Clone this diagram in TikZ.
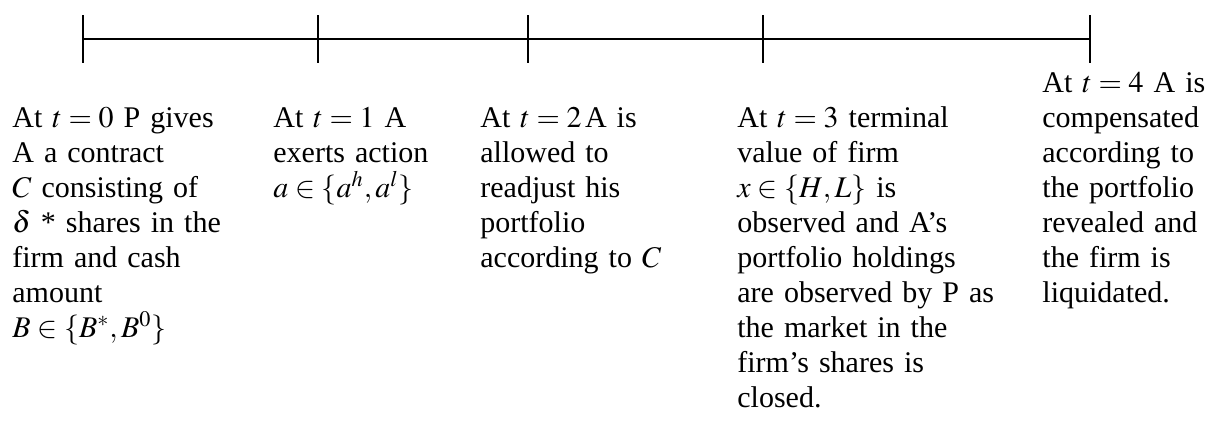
\documentclass[tikz,border=0pt]{standalone}
\usepackage{mathptmx}
\usepackage[no-math]{fontspec}
\setmainfont{Liberation Serif}

\begin{document}
\begin{tikzpicture}[
  x=0.5pt,y=-0.5pt,
  axis/.style={line width=1pt,draw=black},
  tickmark/.style={line width=1.1pt,draw=black},
  event/.style={anchor=base west,inner sep=0pt,align=left,text width=170pt,
    font=\fontsize{15}{17.5}\selectfont}
]
\useasboundingbox (0,0) rectangle (1210,420);

% time points on the axis
\coordinate (t0) at (83,39);
\coordinate (t1) at (318,39);
\coordinate (t2) at (528,39);
\coordinate (t3) at (763,39);
\coordinate (t4) at (1090,39);

\draw[axis] (t0) -- (t4);
\foreach \k in {0,...,4}
  \draw[tickmark] (t\k) ++(0,-24) -- ++(0,48);

\node[event] (ev0) at (12,127) {At $t=0$ P gives\\A a contract\\$C$ consisting of\\$\delta$ * shares in the\\firm and cash\\amount\\$B\in\{B^*,B^0\}$};
\node[event] (ev1) at (273,127) {At $t=1$ A\\exerts action\\$a\in\{a^h,a^l\}$};
\node[event] (ev2) at (480,127) {At $t=2\,$A is\\allowed to\\readjust his\\portfolio\\according to $C$};
\node[event] (ev3) at (737,127) {At $t=3$ terminal\\value of firm\\$x\in\{H,L\}$ is\\observed and A’s\\portfolio holdings\\are observed by P as\\the market in the\\firm’s shares is\\closed.};
\node[event,text width=84pt] (ev4) at (1042,92) {At $t=4$ A is\\compensated\\according to\\the portfolio\\revealed and\\the firm is\\liquidated.};
\end{tikzpicture}
\end{document}
